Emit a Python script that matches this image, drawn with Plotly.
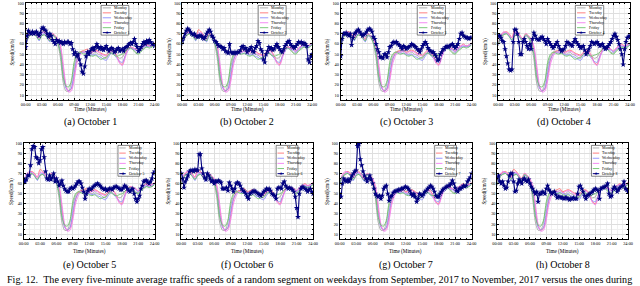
import plotly.graph_objects as go

W, H = 640, 286

# ---------------- data ----------------
time_labels = ["00:00", "03:00", "06:00", "09:00", "12:00", "15:00", "18:00", "21:00", "24:00"]
tick_hours = [0, 3, 6, 9, 12, 15, 18, 21, 24]
y_ticks = [10, 20, 30, 40, 50, 60, 70, 80, 90, 100]

# weekday averages, every 30 minutes 00:00 .. 24:00
monday = [58, 66, 69, 70, 68, 64, 68, 69, 67, 63, 68, 66, 60, 45, 22, 14, 14, 22, 38, 48, 52, 53, 52, 53, 51,
          50, 52, 50, 49, 47, 46, 50, 52, 50, 48, 46, 47, 52, 55, 57, 55, 52, 51, 54, 56, 57, 58, 57, 60]
tuesday = [60, 68, 71, 72, 70, 66, 74, 72, 68, 65, 70, 68, 64, 56, 35, 18, 14, 16, 28, 44, 51, 53, 54, 55, 52,
           53, 54, 53, 51, 50, 49, 52, 54, 53, 48, 42, 40, 48, 55, 57, 56, 55, 53, 56, 58, 60, 58, 59, 61]
wednesday = [59, 67, 70, 71, 68, 63, 69, 70, 66, 62, 68, 67, 62, 52, 30, 17, 14, 17, 32, 45, 50, 52, 51, 51, 50,
             49, 50, 48, 47, 45, 44, 48, 51, 49, 46, 43, 42, 48, 53, 56, 55, 54, 52, 55, 57, 58, 57, 58, 60]
thursday = [61, 69, 72, 71, 69, 66, 71, 71, 68, 64, 70, 68, 65, 58, 40, 20, 13, 14, 24, 40, 48, 52, 52, 53, 51,
            52, 53, 52, 50, 49, 48, 51, 53, 52, 47, 41, 39, 46, 54, 57, 56, 55, 53, 56, 58, 59, 58, 59, 61]
friday = [60, 67, 69, 70, 67, 64, 68, 69, 66, 63, 69, 67, 61, 50, 27, 19, 18, 24, 42, 50, 52, 51, 50, 51, 49,
          48, 49, 47, 45, 46, 47, 50, 51, 49, 48, 49, 50, 52, 55, 56, 54, 51, 50, 53, 55, 57, 56, 57, 59]

# October days, every 15 minutes 00:00 .. 24:00
oct1 = [57, 68, 73, 71, 70, 72, 70, 71, 72, 70, 68, 71, 75, 76, 74, 73, 70, 67, 70, 68, 64, 62, 60, 64,
        62, 63, 61, 62, 60, 62, 61, 62, 62, 60, 61, 55, 50, 52, 48, 50, 45, 40, 33, 31, 38, 48, 52, 50,
        53, 55, 56, 54, 57, 60, 57, 55, 57, 55, 54, 56, 58, 55, 53, 55, 56, 55, 52, 53, 55, 56, 53, 54,
        55, 53, 56, 57, 58, 60, 61, 60, 62, 65, 60, 57, 53, 55, 57, 60, 62, 60, 63, 61, 64, 62, 60, 60, 58]
oct2 = [63, 66, 70, 73, 75, 74, 72, 70, 69, 70, 68, 67, 67, 68, 68, 66, 65, 67, 70, 72, 74, 72, 68, 66,
        63, 62, 60, 58, 58, 57, 55, 56, 53, 52, 51, 60, 52, 51, 51, 52, 51, 52, 52, 54, 57, 58, 55, 56,
        52, 54, 55, 57, 53, 52, 56, 58, 63, 61, 55, 53, 45, 42, 50, 53, 57, 55, 56, 54, 55, 58, 60, 57,
        55, 53, 52, 55, 58, 60, 62, 63, 60, 58, 57, 56, 58, 60, 62, 61, 62, 60, 61, 60, 58, 45, 42, 48, 50]
oct3 = [48, 65, 70, 70, 71, 69, 68, 70, 59, 66, 70, 71, 73, 74, 72, 70, 68, 69, 70, 72, 74, 75, 74, 72,
        67, 65, 60, 55, 52, 47, 47, 46, 50, 50, 47, 52, 57, 58, 61, 62, 61, 62, 60, 59, 57, 55, 58, 57,
        55, 56, 57, 58, 60, 59, 58, 57, 55, 54, 52, 55, 58, 60, 62, 60, 56, 54, 53, 52, 52, 50, 48, 44,
        45, 50, 52, 55, 55, 57, 58, 57, 58, 59, 60, 58, 56, 58, 60, 65, 70, 71, 68, 67, 66, 66, 65, 66, 66]
oct4 = [68, 68, 66, 63, 62, 55, 48, 41, 35, 34, 35, 62, 74, 74, 70, 62, 50, 50, 62, 65, 62, 58, 55, 60,
        55, 65, 71, 68, 65, 64, 64, 66, 67, 65, 63, 60, 65, 62, 60, 58, 56, 58, 60, 62, 58, 55, 53, 54,
        55, 58, 62, 61, 60, 59, 58, 62, 65, 62, 60, 58, 56, 57, 58, 54, 50, 52, 55, 58, 62, 61, 60, 61,
        62, 60, 58, 59, 60, 57, 55, 56, 58, 60, 62, 65, 68, 70, 67, 64, 60, 55, 50, 40, 55, 62, 66, 67, 68]
oct5 = [65, 62, 64, 68, 68, 78, 94, 97, 96, 86, 85, 80, 83, 94, 96, 86, 72, 65, 64, 68, 64, 66, 70, 62,
        65, 62, 58, 60, 63, 58, 55, 53, 52, 52, 55, 56, 55, 56, 58, 60, 62, 62, 60, 56, 52, 45, 50, 53,
        55, 54, 55, 57, 58, 59, 60, 59, 58, 56, 55, 54, 55, 53, 54, 55, 55, 54, 56, 57, 57, 56, 55, 54,
        54, 56, 58, 57, 55, 53, 52, 54, 55, 50, 45, 42, 45, 48, 55, 58, 62, 63, 63, 61, 60, 62, 65, 70, 72]
oct6 = [70, 65, 56, 62, 65, 68, 72, 73, 73, 72, 74, 73, 73, 89, 89, 75, 70, 66, 64, 70, 68, 65, 62, 63,
        60, 62, 62, 63, 62, 61, 55, 55, 55, 56, 53, 61, 58, 55, 52, 55, 60, 61, 60, 58, 55, 53, 52, 50,
        47, 45, 50, 51, 52, 53, 52, 51, 50, 49, 48, 50, 52, 53, 55, 54, 55, 53, 50, 49, 48, 45, 55, 56,
        56, 55, 60, 62, 58, 56, 55, 56, 55, 54, 52, 47, 36, 27, 50, 55, 57, 56, 55, 54, 52, 54, 55, 52, 50]
oct7 = [50, 47, 60, 65, 63, 62, 64, 62, 65, 68, 70, 72, 73, 97, 99, 84, 78, 72, 68, 65, 62, 65, 68, 64,
        60, 55, 50, 48, 47, 48, 45, 48, 55, 57, 58, 50, 43, 47, 48, 51, 52, 53, 53, 54, 54, 55, 55, 56,
        57, 56, 55, 53, 50, 48, 50, 47, 42, 45, 50, 49, 48, 50, 52, 53, 55, 56, 58, 57, 55, 52, 48, 47,
        47, 50, 52, 54, 55, 56, 57, 58, 58, 60, 63, 60, 56, 53, 52, 55, 55, 56, 58, 57, 58, 62, 64, 66, 70]
oct8 = [65, 68, 62, 60, 62, 58, 55, 56, 62, 68, 70, 70, 62, 52, 53, 60, 64, 62, 60, 64, 65, 63, 62, 64,
        60, 57, 55, 52, 50, 52, 42, 50, 50, 52, 51, 50, 55, 58, 54, 52, 50, 51, 52, 49, 46, 47, 47, 46,
        46, 45, 46, 46, 45, 44, 45, 45, 46, 45, 45, 50, 57, 58, 55, 52, 48, 45, 48, 49, 50, 51, 52, 54,
        55, 54, 53, 45, 55, 56, 56, 57, 58, 60, 50, 47, 48, 55, 57, 55, 52, 54, 56, 57, 58, 62, 55, 54, 52]

weekday_names = ["Monday", "Tuesday", "Wednesday", "Thursday", "Friday"]
weekday_series = [monday, tuesday, wednesday, thursday, friday]
october_names = ["October 1", "October 2", "October 3", "October 4",
                 "October 5", "October 6", "October 7", "October 8"]
october_series = [oct1, oct2, oct3, oct4, oct5, oct6, oct7, oct8]
panel_letters = ["a", "b", "c", "d", "e", "f", "g", "h"]

# ---------------- styling ----------------
FONT = "Liberation Serif, Times New Roman, Times, serif"
weekday_colors = ["#a6a6a6", "#ff7373", "#8c8cff", "#f27ef2", "#6cc46c"]
OCT_COLOR = "#00007f"

hours_half = [i * 0.5 for i in range(len(monday))]
hours_q = [i * 0.25 for i in range(len(oct1))]

# plot-area pixel boxes (left, right) per column and (top, bottom) per row
cols_px = [[(21, 152), (180, 312), (341, 474), (501, 635)],
           [(19, 152), (179, 313), (340, 474), (500, 633)]]
rows_px = [(1, 99), (142, 239)]
legend_box = [(0.585, 0.80, 0.975, 0.67), (0.72, 0.885, 0.975, 0.655)]
xtitle_y = [108, 251]
caption_y = [121, 265]

fig = go.Figure()
layout = dict(
    width=W, height=H, margin=dict(l=0, r=0, t=0, b=0),
    paper_bgcolor="white", plot_bgcolor="white", showlegend=False,
    font=dict(family=FONT, color="black"),
)
shapes = []
annotations = []

for p in range(8):
    r, c = divmod(p, 4)
    idx = p + 1
    xa = "x" if idx == 1 else f"x{idx}"
    ya = "y" if idx == 1 else f"y{idx}"
    xkey = "xaxis" if idx == 1 else f"xaxis{idx}"
    ykey = "yaxis" if idx == 1 else f"yaxis{idx}"
    l, rr = cols_px[r][c]
    t, b = rows_px[r]
    layout[xkey] = dict(
        domain=[l / W, rr / W], anchor=ya, range=[0, 24],
        tickmode="array", tickvals=tick_hours, ticktext=time_labels,
        tickfont=dict(size=4.3, family=FONT, color="black"),
        showgrid=True, gridcolor="#dedede", gridwidth=0.6,
        ticks="inside", ticklen=2, tickwidth=0.6, tickcolor="black",
        minor=dict(tickmode="linear", tick0=0, dtick=1, ticks="inside", ticklen=1,
                   tickcolor="black", showgrid=True, gridcolor="#f0f0f0", gridwidth=0.5),
        showline=True, linecolor="black", linewidth=0.8, mirror="allticks",
        zeroline=False, fixedrange=True,
    )
    layout[ykey] = dict(
        domain=[1 - b / H, 1 - t / H], anchor=xa, range=[5, 100],
        tickmode="array", tickvals=y_ticks,
        tickfont=dict(size=4.3, family=FONT, color="black"),
        showgrid=True, gridcolor="#dedede", gridwidth=0.6,
        ticks="inside", ticklen=2, tickwidth=0.6, tickcolor="black",
        minor=dict(tickmode="linear", tick0=0, dtick=5, ticks="inside", ticklen=1,
                   tickcolor="black", showgrid=True, gridcolor="#f0f0f0", gridwidth=0.5),
        showline=True, linecolor="black", linewidth=0.8, mirror="allticks",
        zeroline=False, fixedrange=True,
    )

    for name, ser, col in zip(weekday_names, weekday_series, weekday_colors):
        fig.add_trace(go.Scatter(
            x=hours_half, y=ser, mode="lines", name=name, xaxis=xa, yaxis=ya,
            line=dict(color=col, width=0.9, shape="spline", smoothing=0.7),
            hoverinfo="skip"))
    fig.add_trace(go.Scatter(
        x=hours_q, y=october_series[p], mode="lines+markers", name=october_names[p],
        xaxis=xa, yaxis=ya,
        line=dict(color=OCT_COLOR, width=1.1),
        marker=dict(symbol="star", size=4.4, color=OCT_COLOR, line=dict(width=0)),
        hoverinfo="skip"))

    # legend box
    lx0, lx1, ly1, ly0 = legend_box[r]
    xd = f"{xa} domain"
    yd = f"{ya} domain"
    shapes.append(dict(type="rect", xref=xd, yref=yd, x0=lx0, x1=lx1, y0=ly0, y1=ly1,
                       line=dict(color="#333333", width=0.6), fillcolor="white", layer="above"))
    names = weekday_names + [october_names[p]]
    colors = weekday_colors + [OCT_COLOR]
    step = (ly1 - ly0) / 6
    wdom = lx1 - lx0
    for k, (nm, cl) in enumerate(zip(names, colors)):
        yc = ly1 - (k + 0.5) * step
        sx0 = lx0 + 0.06 * wdom
        sx1 = lx0 + 0.36 * wdom
        shapes.append(dict(type="line", xref=xd, yref=yd, x0=sx0, x1=sx1, y0=yc, y1=yc,
                           line=dict(color=cl, width=0.9 if k < 5 else 1.0), layer="above"))
        if k == 5:
            annotations.append(dict(xref=xd, yref=yd, x=(sx0 + sx1) / 2, y=yc, text="★",
                                    showarrow=False, font=dict(size=4.5, color=OCT_COLOR, family="DejaVu Sans"),
                                    xanchor="center", yanchor="middle"))
        annotations.append(dict(xref=xd, yref=yd, x=lx0 + 0.40 * wdom, y=yc, text=nm,
                                showarrow=False, font=dict(size=3.9, family=FONT, color="black"),
                                xanchor="left", yanchor="middle"))

    # axis titles
    annotations.append(dict(xref=xd, yref="paper", x=0.5, y=1 - xtitle_y[r] / H, text="Time (Minutes)",
                            showarrow=False, font=dict(size=5.2, family=FONT, color="black"),
                            xanchor="center", yanchor="middle"))
    annotations.append(dict(xref="paper", yref=yd, x=(l - 13) / W, y=0.5, text="Speed(km/h)",
                            showarrow=False, textangle=-90, font=dict(size=5.2, family=FONT, color="black"),
                            xanchor="center", yanchor="middle"))
    # sub-caption
    annotations.append(dict(xref=xd, yref="paper", x=0.5, y=1 - caption_y[r] / H,
                            text=f"({panel_letters[p]}) {october_names[p]}",
                            showarrow=False, font=dict(size=10, family=FONT, color="black"),
                            xanchor="center", yanchor="middle"))

annotations.append(dict(xref="paper", yref="paper", x=0.0, y=1 - 279 / H,
                        text="Fig. 12.&nbsp;&nbsp;The every five-minute average traffic speeds of a random segment on weekdays from September, 2017 to November, 2017 versus the ones during",
                        showarrow=False, font=dict(size=10.1, family=FONT, color="black"),
                        xanchor="left", yanchor="middle"))

layout["shapes"] = shapes
layout["annotations"] = annotations
fig.update_layout(**layout)
fig.write_html("out.html", config={"displayModeBar": False},
               post_script="document.body.style.margin='0';document.body.style.overflow='hidden';")
